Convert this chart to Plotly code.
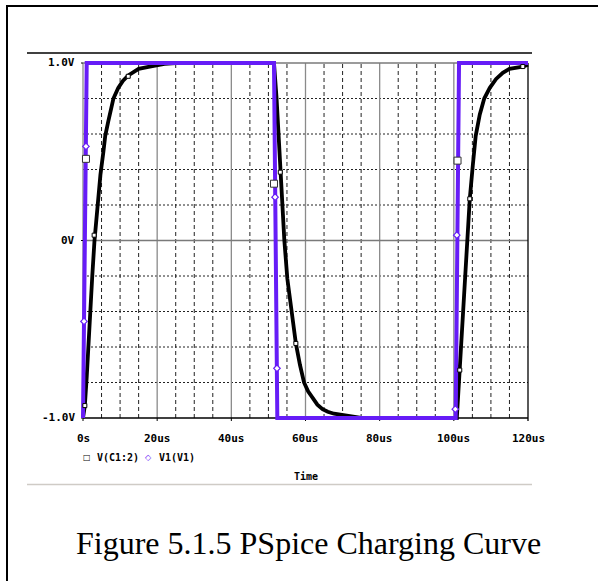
import plotly.graph_objects as go

# ---------------- data ----------------
# V(C1:2) : capacitor voltage (black)
t_c = [0, 0.5, 1.0, 1.7, 2.5, 3.1, 3.9, 4.7, 5.5, 6.0, 6.8, 7.5, 8.2, 9.5, 10.8,
       12.2, 13.5, 15.0, 18.0, 22.0, 25.0, 30.0, 40.0, 51.5, 52.2, 53.2, 54.3,
       55.1, 56.3, 57.4, 58.5, 59.6, 60.7, 61.9, 63.2, 64.6, 66.0, 67.7, 71.8,
       75.0, 90.0, 100.8, 101.6, 102.5, 103.5, 104.3, 105.1, 105.9, 107.0, 108.2,
       109.7, 111.4, 113.2, 115.0, 118.6, 120.0]
v_c = [-1.0, -0.93, -0.77, -0.46, -0.2, 0.0, 0.216, 0.37, 0.50, 0.59, 0.67, 0.74,
       0.80, 0.86, 0.90, 0.93, 0.95, 0.967, 0.98, 0.995, 1.0, 1.0, 1.0, 1.0, 0.8,
       0.39, 0.0, -0.215, -0.41, -0.58, -0.70, -0.80, -0.85, -0.89, -0.925, -0.95,
       -0.965, -0.976, -0.99, -1.0, -1.0, -1.0, -0.72, -0.37, 0.0, 0.235, 0.42,
       0.59, 0.71, 0.80, 0.86, 0.91, 0.945, 0.967, 0.98, 0.99]

# V1(V1) : source pulse (purple)
t_v = [0.0, 1.0, 51.5, 52.4, 100.5, 101.4, 120.0]
v_v = [-1.0, 1.0, 1.0, -1.0, -1.0, 1.0, 1.0]

# marker positions
sq_t = [0.5, 3.0, 12.2, 53.2, 57.4, 101.6, 104.3, 118.6]
sq_v = [-0.93, 0.03, 0.925, 0.385, -0.58, -0.73, 0.235, 0.98]
big_t = [0.8, 51.5, 101.0]
big_v = [0.46, 0.32, 0.45]
dia_t = [0.27, 0.8, 51.8, 52.3, 100.4, 100.8]
dia_v = [-0.456, 0.53, 0.244, -0.72, -0.95, 0.03]

x_major = [0, 20, 40, 60, 80, 100, 120]
x_labels = ["0s", "20us", "40us", "60us", "80us", "100us", "120us"]
x_minor = [5, 10, 15, 25, 30, 35, 45, 50, 55, 65, 70, 75, 85, 90, 95, 105, 110, 115]
y_major = [-1, 0, 1]
y_labels = ["-1.0V", "0V", "1.0V"]
y_minor = [-0.8, -0.6, -0.4, -0.2, 0.2, 0.4, 0.6, 0.8]

# ---------------- geometry ----------------
W, H = 598, 581
L, R, T, B = 81, 68, 60, 160
PW, PH = W - L - R, H - T - B
pxu = 445 / 120.0           # pixels per microsecond
pxv = 177.5                 # pixels per volt
x_rng = [-(83 - L) / pxu, 120 + (W - R - 528) / pxu]
y_rng = [-1 - (H - B - 418) / pxv, 1 + (63 - T) / pxv]


def px(x, y):
    return (x - L) / PW, (H - B - y) / PH


PURPLE = "#661cf7"
MONO = dict(family="DejaVu Sans Mono", size=11, color="black", weight="bold")
MONO_LEG = dict(family="DejaVu Sans Mono", size=10, color="black", weight="bold")

fig = go.Figure()
fig.add_trace(go.Scatter(x=t_c, y=v_c, mode="lines",
                         line=dict(color="black", width=3.8), hoverinfo="skip"))
fig.add_trace(go.Scatter(x=t_v, y=v_v, mode="lines",
                         line=dict(color=PURPLE, width=4), hoverinfo="skip"))
fig.add_trace(go.Scatter(x=sq_t, y=sq_v, mode="markers", cliponaxis=False,
                         marker=dict(symbol="square", size=4, color="white",
                                     line=dict(color="black", width=1))))
fig.add_trace(go.Scatter(x=dia_t, y=dia_v, mode="markers", cliponaxis=False,
                         marker=dict(symbol="diamond", size=5, color="white",
                                     line=dict(color=PURPLE, width=1.2))))
fig.add_trace(go.Scatter(x=big_t, y=big_v, mode="markers", cliponaxis=False,
                         marker=dict(symbol="square", size=7, color="white",
                                     line=dict(color="#333333", width=1))))

shapes = []
# dashed grid
for xv in x_minor:
    shapes.append(dict(type="line", xref="x", yref="y", x0=xv, x1=xv, y0=-1, y1=1,
                       layer="between", line=dict(color="#222222", width=1, dash="4px,3px")))
for yv in y_minor:
    shapes.append(dict(type="line", xref="x", yref="y", x0=0, x1=120, y0=yv, y1=yv,
                       layer="between", line=dict(color="#222222", width=1, dash="2px,2px")))
# solid grid
for xv in x_major[:-1]:
    shapes.append(dict(type="line", xref="x", yref="y", x0=xv, x1=xv, y0=-1, y1=1,
                       layer="between", line=dict(color="#8a8a8a", width=1.3)))
for yv in [0, 1]:
    shapes.append(dict(type="line", xref="x", yref="y", x0=0, x1=120, y0=yv, y1=yv,
                       layer="between", line=dict(color="#7a7a7a", width=1.3)))
# axis lines
shapes.append(dict(type="line", xref="x", yref="y", x0=0, x1=120, y0=-1, y1=-1,
                   layer="between", line=dict(color="black", width=1.3)))
shapes.append(dict(type="line", xref="x", yref="y", x0=120, x1=120, y0=-1.035, y1=1,
                   layer="between", line=dict(color="black", width=1.3)))
# ticks
for xv in x_major[:-1]:
    shapes.append(dict(type="line", xref="x", yref="y", x0=xv, x1=xv, y0=-1, y1=-1.035,
                       layer="between", line=dict(color="black", width=1)))
for yv in y_major:
    shapes.append(dict(type="line", xref="x", yref="y", x0=-6 / pxu, x1=0, y0=yv, y1=yv,
                       layer="between", line=dict(color="black", width=1)))

# page decorations (paper coords from pixels)
def hline(x0, x1, y, color, width):
    a, b = px(x0, y)
    c, _ = px(x1, y)
    return dict(type="line", xref="paper", yref="paper", x0=a, x1=c, y0=b, y1=b,
                line=dict(color=color, width=width))

shapes.append(hline(27, 532, 53, "black", 1.5))
shapes.append(hline(27, 532, 484.5, "#cfcbc6", 1.5))
fx0, fy0 = px(7, 6)
fx1, fy1 = px(620, 600)
shapes.append(dict(type="rect", xref="paper", yref="paper", x0=fx0, x1=fx1, y0=fy1, y1=fy0,
                   line=dict(color="black", width=2)))

annotations = []
def ann(x, y, text, font, xanchor="center", yanchor="middle"):
    a, b = px(x, y)
    annotations.append(dict(x=a, y=b, xref="paper", yref="paper", text=text, showarrow=False,
                            font=font, xanchor=xanchor, yanchor=yanchor))

for xv, lab in zip(x_major, x_labels):
    ann(83 + xv * pxu, 438, lab, MONO)
for yv, lab in zip(y_major, y_labels):
    ann(77, 240 - yv * pxv, lab, MONO, xanchor="right")

ann(87, 457, "□", dict(family="DejaVu Sans", size=8, color="black"))
ann(95, 457, "V(C1:2)", MONO_LEG, xanchor="left")
ann(148.5, 457, "◇", dict(family="DejaVu Sans", size=8, color=PURPLE))
ann(156.5, 457, "V1(V1)", MONO_LEG, xanchor="left")
ann(306, 476.5, "Time", MONO_LEG)
ann(308.5, 543, "Figure 5.1.5 PSpice Charging Curve",
    dict(family="Liberation Serif", size=32, color="black"))

fig.update_layout(
    width=W, height=H, margin=dict(l=L, r=R, t=T, b=B, pad=0),
    paper_bgcolor="white", plot_bgcolor="white", showlegend=False,
    xaxis=dict(range=x_rng, showgrid=False, zeroline=False, showticklabels=False,
               ticks="", showline=False, fixedrange=True),
    yaxis=dict(range=y_rng, showgrid=False, zeroline=False, showticklabels=False,
               ticks="", showline=False, fixedrange=True),
    shapes=shapes, annotations=annotations,
)

fig.write_html("out.html", config={"displayModeBar": False})
